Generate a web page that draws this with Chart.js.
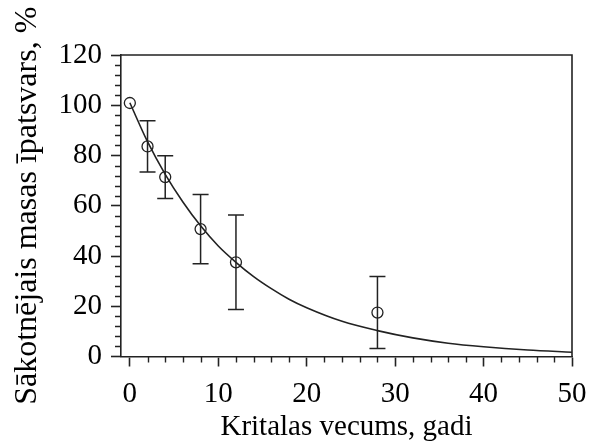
<!DOCTYPE html>
<html>
<head>
<meta charset="utf-8">
<script src="https://cdn.jsdelivr.net/npm/chart.js@4/dist/chart.umd.min.js"></script>
<style>
  html, body { margin: 0; padding: 0; background: #fff; }
  canvas { display: block; }
</style>
</head>
<body>
<canvas id="c" width="592" height="445"></canvas>
<script>
// ---- data ----
const ageYears   = [0, 2, 4, 8, 12, 28];
const massPct    = [100.9, 83.6, 71.4, 50.7, 37.5, 17.5];
const massErr    = [0, 10.2, 8.5, 13.8, 18.8, 14.3];

const curveX     = [0, 2, 4, 6, 8, 10, 12, 14, 16, 18, 20, 24, 28, 32, 36, 40, 45, 50];
const curveY     = [101, 85.5, 72.5, 61.5, 52, 44, 37.5, 31.8, 27, 22.8, 19.4, 14, 10.3, 7.4, 5.3, 3.9, 2.6, 1.7];

const xMajorTicks = [0, 10, 20, 30, 40, 50];
const xMinorTicks = [2, 4, 6, 8, 12, 14, 16, 18, 22, 24, 26, 28, 32, 34, 36, 38, 42, 44, 46, 48];
const yMajorTicks = [0, 20, 40, 60, 80, 100, 120];
const yMinorTicks = [4, 8, 12, 16, 24, 28, 32, 36, 44, 48, 52, 56, 64, 68, 72, 76, 84, 88, 92, 96, 104, 108, 112, 116];

const xTitle = 'Kritalas vecums, gadi';
const yTitle = 'Sākotnējais masas īpatsvars, %';

const INK = '#222';
const FONT = 'Liberation Serif, Times New Roman, serif';

const boxAndMinor = {
  id: 'boxAndMinor',
  afterDraw(chart) {
    const { ctx, chartArea: a, scales: { x, y } } = chart;
    ctx.save();
    ctx.strokeStyle = INK;
    ctx.lineWidth = 1.6;
    ctx.beginPath();
    ctx.moveTo(a.left, a.top);
    ctx.lineTo(a.right, a.top);
    ctx.lineTo(a.right, a.bottom);
    ctx.stroke();
    ctx.lineWidth = 1.4;
    ctx.beginPath();
    xMinorTicks.forEach(v => {
      const px = Math.round(x.getPixelForValue(v)) + 0.5;
      ctx.moveTo(px, a.bottom);
      ctx.lineTo(px, a.bottom + 6);
    });
    yMinorTicks.forEach(v => {
      const py = Math.round(y.getPixelForValue(v)) + 0.5;
      ctx.moveTo(a.left, py);
      ctx.lineTo(a.left - 6, py);
    });
    ctx.stroke();
    ctx.restore();
  }
};

const errorBars = {
  id: 'errorBars',
  afterDatasetsDraw(chart) {
    const { ctx, scales: { x, y } } = chart;
    ctx.save();
    ctx.strokeStyle = INK;
    ctx.lineWidth = 1.5;
    ctx.beginPath();
    ageYears.forEach((xv, i) => {
      const e = massErr[i];
      if (!e) return;
      const px = x.getPixelForValue(xv);
      const pt = y.getPixelForValue(massPct[i] + e);
      const pb = y.getPixelForValue(massPct[i] - e);
      ctx.moveTo(px, pt); ctx.lineTo(px, pb);
      ctx.moveTo(px - 8, pt); ctx.lineTo(px + 8, pt);
      ctx.moveTo(px - 8, pb); ctx.lineTo(px + 8, pb);
    });
    ctx.stroke();
    ctx.restore();
  }
};

new Chart(document.getElementById('c'), {
  type: 'scatter',
  data: {
    datasets: [
      {
        type: 'line',
        data: curveX.map((v, i) => ({ x: v, y: curveY[i] })),
        borderColor: INK,
        borderWidth: 1.6,
        pointRadius: 0,
        fill: false,
        cubicInterpolationMode: 'monotone',
        order: 2
      },
      {
        data: ageYears.map((v, i) => ({ x: v, y: massPct[i] })),
        pointStyle: 'circle',
        pointRadius: 5.5,
        borderColor: INK,
        borderWidth: 1.3,
        backgroundColor: 'rgba(0,0,0,0)',
        order: 1
      }
    ]
  },
  options: {
    responsive: false,
    animation: false,
    layout: { padding: { top: 55, right: 20, left: 0, bottom: 0 } },
    plugins: { legend: { display: false }, tooltip: { enabled: false } },
    scales: {
      x: {
        type: 'linear',
        min: -1, max: 50,
        afterBuildTicks: s => { s.ticks = xMajorTicks.map(v => ({ value: v })); },
        afterFit: s => { s.height = 445 - 356.5; s.paddingLeft = 0; s.paddingRight = 0; },
        grid: { drawOnChartArea: false, tickLength: 10, tickColor: INK, tickWidth: 1.6 },
        border: { color: INK, width: 1.6 },
        ticks: { color: '#000', padding: 10, maxRotation: 0, font: { family: FONT, size: 29 } },
        title: { display: true, text: xTitle, color: '#000', padding: { top: 0, bottom: 0 }, font: { family: FONT, size: 29 } }
      },
      y: {
        type: 'linear',
        min: 0, max: 120,
        afterBuildTicks: s => { s.ticks = yMajorTicks.map(v => ({ value: v })); },
        afterFit: s => { s.width = 121; s.paddingTop = 0; s.paddingBottom = 0; },
        grid: { drawOnChartArea: false, tickLength: 10, tickColor: INK, tickWidth: 1.6 },
        border: { color: INK, width: 1.6 },
        ticks: { color: '#000', padding: 9, font: { family: FONT, size: 29 } },
        title: { display: true, text: yTitle, color: '#000', padding: { top: 8, bottom: 0 }, font: { family: FONT, size: 32 } }
      }
    }
  },
  plugins: [boxAndMinor, errorBars]
});
</script>
</body>
</html>
